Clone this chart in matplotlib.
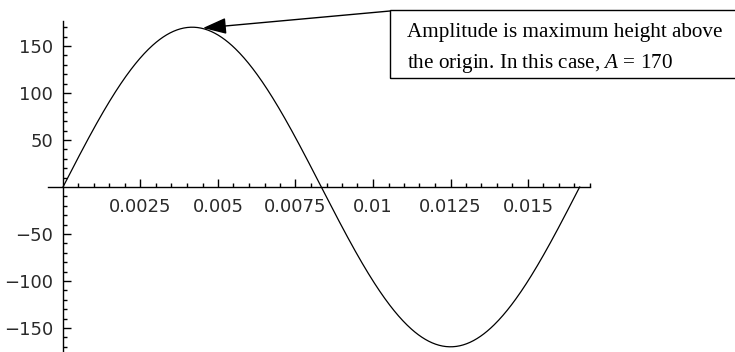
import numpy as np
import matplotlib.pyplot as plt
from matplotlib.patches import Rectangle

# function plotted: v(t) = A sin(2 pi f t), one full cycle
amplitude = 170
frequency = 60
t_end = 1 / 60

x_major = [0.0025, 0.005, 0.0075, 0.01, 0.0125, 0.015]
x_labels = ['0.0025', '0.005', '0.0075', '0.01', '0.0125', '0.015']
y_major = [-150, -100, -50, 50, 100, 150]
y_labels = ['\u2212150', '\u2212100', '\u221250', '50', '100', '150']

plt.rcParams['mathtext.fontset'] = 'custom'
plt.rcParams['mathtext.rm'] = 'Liberation Serif'
plt.rcParams['mathtext.it'] = 'Liberation Serif:italic'

W, H = 735, 352
fig = plt.figure(figsize=(W / 100, H / 100), dpi=100)
ax = fig.add_axes([0, 0, 1, 1])
ax.patch.set_alpha(0)

# pixel layout: origin at (63, 187), 31000 px per second, 0.94 px per unit
x0, y0, sx, sy = 63, 187, 31000, 0.94
ax.set_xlim(-x0 / sx, (W - x0) / sx)
ax.set_ylim(-(H - y0) / sy, y0 / sy)

t = np.linspace(0, t_end, 600)
ax.plot(t, amplitude * np.sin(2 * np.pi * frequency * t), color='black', lw=0.9)

for s in ['top', 'right']:
    ax.spines[s].set_visible(False)
ax.spines['left'].set_position(('data', 0))
ax.spines['bottom'].set_position(('data', 0))
ax.spines['bottom'].set_bounds(-15 / sx, 0.0170)
ax.spines['left'].set_bounds(-176, 177)
for s in ['left', 'bottom']:
    ax.spines[s].set_linewidth(1.0)

ax.set_xticks(x_major)
ax.set_xticklabels(x_labels)
ax.set_xticks(np.arange(1, 35) * 0.0005, minor=True)
ax.set_yticks(y_major)
ax.set_yticklabels(y_labels)
ax.set_yticks([v for v in range(-170, 171, 10) if v % 50 != 0], minor=True)

ax.tick_params(which='both', direction='in', width=1.0, colors='black')
ax.tick_params(which='major', length=5.5)
ax.tick_params(which='minor', length=3.2)
ax.tick_params(axis='x', which='major', pad=8, labelsize=13, labelcolor='#2a2a2a')
ax.tick_params(axis='y', which='major', pad=7, labelsize=13, labelcolor='#2a2a2a')

# annotation box and arrow
fig.patches.append(Rectangle((390 / W, 1 - 78 / H), 360 / W, 68 / H,
                             transform=fig.transFigure, fill=False,
                             edgecolor='black', lw=1.0))
fig.text(407 / W, 1 - 37 / H, 'Amplitude is maximum height above',
         family='Liberation Serif', fontsize=15.2, va='baseline')
fig.text(407 / W, 1 - 68 / H, 'the origin. In this case, $A$ = 170',
         family='Liberation Serif', fontsize=15.2, va='baseline')

ax.annotate('', xy=((203 - x0) / sx, (y0 - 28) / sy),
            xytext=(390, H - 11), textcoords='figure pixels',
            arrowprops=dict(arrowstyle='-|>,head_length=1.44,head_width=0.5',
                            mutation_scale=10, color='black', lw=1.0,
                            shrinkA=0, shrinkB=0))

fig.savefig('out.png', dpi=100)
